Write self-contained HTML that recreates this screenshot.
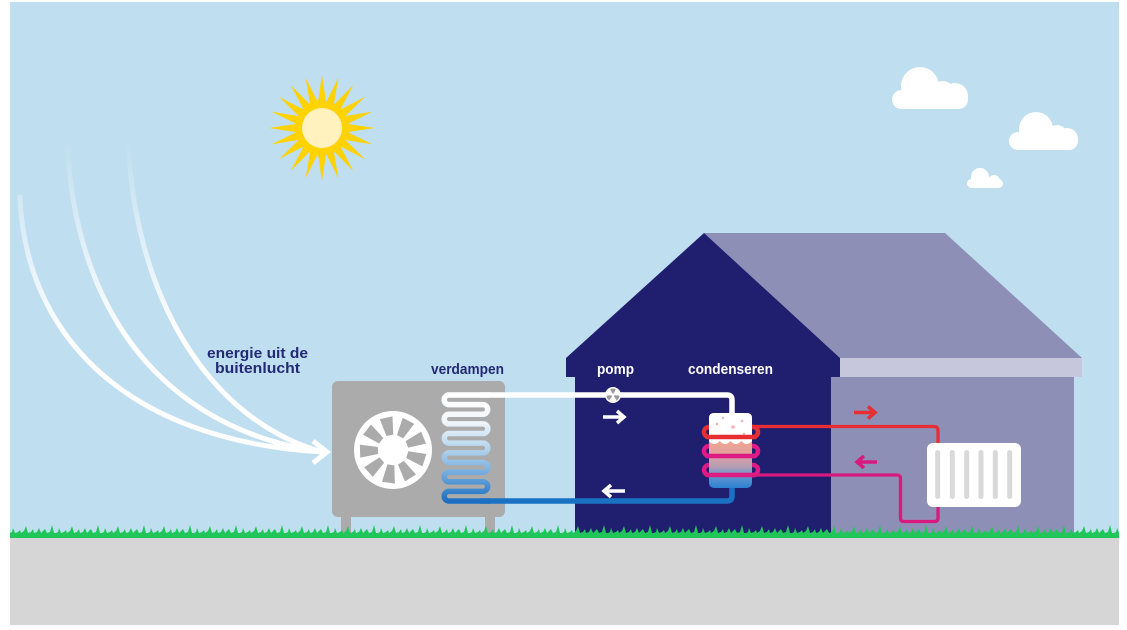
<!DOCTYPE html>
<html><head><meta charset="utf-8"><style>
html,body{margin:0;padding:0;background:#fff;}
svg{display:block;}
text{font-family:"Liberation Sans",sans-serif;font-weight:bold;}
</style></head><body>
<svg width="1127" height="630" viewBox="0 0 1127 630" xmlns="http://www.w3.org/2000/svg">
<defs>
  <linearGradient id="wind" gradientUnits="userSpaceOnUse" x1="0" y1="140" x2="0" y2="340">
    <stop offset="0" stop-color="#fff" stop-opacity="0"/>
    <stop offset="1" stop-color="#fff" stop-opacity="1"/>
  </linearGradient>
  <linearGradient id="coil" gradientUnits="userSpaceOnUse" x1="0" y1="395" x2="0" y2="501">
    <stop offset="0" stop-color="#ffffff"/>
    <stop offset="0.25" stop-color="#f2f7fb"/>
    <stop offset="0.45" stop-color="#c2dcf0"/>
    <stop offset="0.7" stop-color="#7fb4e2"/>
    <stop offset="1" stop-color="#1a6fc2"/>
  </linearGradient>
  <linearGradient id="tank" gradientUnits="userSpaceOnUse" x1="0" y1="413" x2="0" y2="488">
    <stop offset="0.35" stop-color="#f3a78e"/>
    <stop offset="0.55" stop-color="#e0a09f"/>
    <stop offset="0.72" stop-color="#b49db4"/>
    <stop offset="0.82" stop-color="#6b96cc"/>
    <stop offset="1" stop-color="#2b82d2"/>
  </linearGradient>
  <pattern id="grass" patternUnits="userSpaceOnUse" x="10" y="524" width="46" height="14">
    <polygon fill="#20c65a" points="0,14 0,9 2,8 3,4 5,9 8,8 10,6 11,9 14,7 16,2 18,9 21,8 23,5 24,9 27,8 29,4 31,9 33,7 35,5 37,9 40,8 42,1 44,9 46,9 46,14"/>
  </pattern>
  <polygon id="ray" points="318,102 322,75 326,102"/>
  <polygon id="hole" points="-3.5,-15 3.5,-15 6.5,-33 -6.5,-33"/>
  <path id="blade" d="M613,395 L610.25,389.1 A6.5 6.5 0 0 1 615.75,389.1 Z"/>
</defs>

<!-- sky & ground -->
<rect x="10" y="2" width="1109" height="536" fill="#bfdef0"/>
<rect x="10" y="538" width="1109" height="87" fill="#d6d6d6"/>

<!-- sun -->
<g fill="#ffd200">
  <use href="#ray" transform="rotate(0 322 128)"/>
  <use href="#ray" transform="rotate(18 322 128)"/>
  <use href="#ray" transform="rotate(36 322 128)"/>
  <use href="#ray" transform="rotate(54 322 128)"/>
  <use href="#ray" transform="rotate(72 322 128)"/>
  <use href="#ray" transform="rotate(90 322 128)"/>
  <use href="#ray" transform="rotate(108 322 128)"/>
  <use href="#ray" transform="rotate(126 322 128)"/>
  <use href="#ray" transform="rotate(144 322 128)"/>
  <use href="#ray" transform="rotate(162 322 128)"/>
  <use href="#ray" transform="rotate(180 322 128)"/>
  <use href="#ray" transform="rotate(198 322 128)"/>
  <use href="#ray" transform="rotate(216 322 128)"/>
  <use href="#ray" transform="rotate(234 322 128)"/>
  <use href="#ray" transform="rotate(252 322 128)"/>
  <use href="#ray" transform="rotate(270 322 128)"/>
  <use href="#ray" transform="rotate(288 322 128)"/>
  <use href="#ray" transform="rotate(306 322 128)"/>
  <use href="#ray" transform="rotate(324 322 128)"/>
  <use href="#ray" transform="rotate(342 322 128)"/>
  <circle cx="322" cy="128" r="27"/>
</g>
<circle cx="322" cy="128" r="20" fill="#fff2be"/>

<!-- clouds -->
<g fill="#ffffff">
  <circle cx="920" cy="86" r="19"/>
  <rect x="892" y="90" width="76" height="19" rx="9.5"/>
  <circle cx="943" cy="92" r="11"/>
  <circle cx="955" cy="96" r="13"/>

  <circle cx="1036" cy="129" r="17"/>
  <rect x="1009" y="132" width="69" height="18" rx="9"/>
  <circle cx="1057" cy="135" r="10"/>
  <circle cx="1067" cy="139" r="11"/>

  <circle cx="980" cy="177" r="9"/>
  <rect x="967" y="179" width="36" height="9" rx="4.5"/>
  <circle cx="994" cy="181" r="6"/>
</g>

<!-- wind curves -->
<g fill="none" stroke="url(#wind)" stroke-width="5" stroke-linecap="round">
  <path d="M20,197 C25,330 120,440 322,452"/>
  <path d="M67,140 C75,320 170,430 322,452"/>
  <path d="M128,140 C135,300 210,420 322,452"/>
</g>
<path d="M313,441 L327,452 L313,463" fill="none" stroke="#fff" stroke-width="5" stroke-linejoin="miter"/>

<text x="207" y="358" font-size="15" fill="#232a74" textLength="101" lengthAdjust="spacingAndGlyphs">energie uit de</text>
<text x="215" y="373" font-size="15" fill="#232a74" textLength="85" lengthAdjust="spacingAndGlyphs">buitenlucht</text>

<!-- house -->
<polygon points="704,233 945,233 1082,358 840,358" fill="#8e8fb6"/>
<rect x="840" y="358" width="242" height="19" fill="#c6c6dd"/>
<rect x="831" y="377" width="243" height="161" fill="#8e8fb6"/>
<polygon points="704,233 840,358 840,377 831,377 831,538 575,538 575,377 566,377 566,358" fill="#201f6f"/>

<!-- heat pump unit -->
<rect x="341" y="510" width="10" height="26" fill="#ababab"/>
<rect x="485" y="510" width="10" height="26" fill="#ababab"/>
<rect x="332" y="381" width="173" height="136" rx="6" fill="#ababab"/>
<circle cx="393" cy="450" r="39" fill="#ffffff"/>
<g fill="#ababab" transform="translate(393 450)">
  <use href="#hole" transform="rotate(-12)"/>
  <use href="#hole" transform="rotate(28)"/>
  <use href="#hole" transform="rotate(68)"/>
  <use href="#hole" transform="rotate(108)"/>
  <use href="#hole" transform="rotate(148)"/>
  <use href="#hole" transform="rotate(188)"/>
  <use href="#hole" transform="rotate(228)"/>
  <use href="#hole" transform="rotate(268)"/>
  <use href="#hole" transform="rotate(308)"/>
</g>

<text x="431" y="374" font-size="15" fill="#232a74" textLength="73" lengthAdjust="spacingAndGlyphs">verdampen</text>
<text x="597" y="374" font-size="15" fill="#ffffff" textLength="37" lengthAdjust="spacingAndGlyphs">pomp</text>
<text x="688" y="374" font-size="15" fill="#ffffff" textLength="85" lengthAdjust="spacingAndGlyphs">condenseren</text>

<!-- pipes -->
<path d="M480,395 H727 Q732,395 732,400 V416" fill="none" stroke="#ffffff" stroke-width="5.5"/>
<path d="M480,501 H727 Q732,501 732,496 V484" fill="none" stroke="#1a72c4" stroke-width="5.5"/>

<!-- coil -->
<path fill="none" stroke="url(#coil)" stroke-width="5.5" d="M490,395 H449 A4.818 4.818 0 0 0 449,404.64 H483 A4.818 4.818 0 0 1 483,414.27 H449 A4.818 4.818 0 0 0 449,423.91 H483 A4.818 4.818 0 0 1 483,433.55 H449 A4.818 4.818 0 0 0 449,443.18 H483 A4.818 4.818 0 0 1 483,452.82 H449 A4.818 4.818 0 0 0 449,462.45 H483 A4.818 4.818 0 0 1 483,472.09 H449 A4.818 4.818 0 0 0 449,481.73 H483 A4.818 4.818 0 0 1 483,491.36 H449 A4.818 4.818 0 0 0 449,501 H490"/>

<!-- pump icon -->
<circle cx="613" cy="395" r="8" fill="#ffffff"/>
<g fill="#9a9a9a">
  <use href="#blade"/>
  <use href="#blade" transform="rotate(120 613 395)"/>
  <use href="#blade" transform="rotate(240 613 395)"/>
</g>
<circle cx="613" cy="395" r="1.6" fill="#ffffff"/>

<!-- white arrows -->
<g fill="none" stroke="#ffffff" stroke-width="3.5">
  <path d="M603,417 H624"/>
  <path d="M617,411 L624,417 L617,423"/>
  <path d="M604,491 H625"/>
  <path d="M611,485 L604,491 L611,497"/>
</g>

<!-- hot water pipes -->
<path d="M752,426.5 H934 Q938,426.5 938,430.5 V446" fill="none" stroke="#e62e33" stroke-width="3.3"/>
<path d="M752,475 H897 Q900.5,475 900.5,478.5 V518 Q900.5,521.5 904,521.5 H934.5 Q938,521.5 938,518 V504" fill="none" stroke="#d81a80" stroke-width="3.3"/>

<!-- coil loops behind tank -->
<g fill="none" stroke-width="4.5">
  <rect x="704" y="427" width="54" height="10" rx="5" stroke="#e62e33"/>
  <rect x="704" y="446" width="54" height="10" rx="5" stroke="#df1a82"/>
  <rect x="704" y="465" width="54" height="10" rx="5" stroke="#df1a82"/>
</g>

<!-- tank -->
<rect x="709" y="413" width="43" height="75" rx="5" fill="url(#tank)"/>
<path d="M709,441 V418 Q709,413 714,413 H747 Q752,413 752,418 V441 Q746.6,447 741.25,441 Q735.9,447 730.5,441 Q725.1,447 719.75,441 Q714.4,447 709,441 Z" fill="#ffffff"/>
<g fill="#f4b4b4">
  <circle cx="717" cy="424" r="1.3"/>
  <circle cx="723" cy="418" r="1.2"/>
  <circle cx="733" cy="427" r="1.8"/>
  <circle cx="742" cy="421" r="1.3"/>
  <circle cx="727" cy="436" r="1.2"/>
  <circle cx="744" cy="434" r="1.2"/>
</g>

<!-- coil front bars -->
<g fill="none" stroke-width="4.5" stroke-linecap="round">
  <path d="M707,437 H755" stroke="#e62e33"/>
  <path d="M707,456 H755" stroke="#df1a82"/>
  <path d="M707,475 H755" stroke="#df1a82"/>
</g>

<!-- colored arrows -->
<g fill="none" stroke-width="3.5">
  <path d="M854,412.5 H875" stroke="#e62e33"/>
  <path d="M868,406.5 L875,412.5 L868,418.5" stroke="#e62e33"/>
  <path d="M857,462 H877" stroke="#d81a80"/>
  <path d="M864,456 L857,462 L864,468" stroke="#d81a80"/>
</g>

<!-- radiator -->
<rect x="927" y="443" width="94" height="64" rx="6" fill="#ffffff"/>
<g fill="#d9d9d9">
  <rect x="935.2" y="450" width="5" height="49" rx="2.5"/>
  <rect x="949.8" y="450" width="5" height="49" rx="2.5"/>
  <rect x="964.2" y="450" width="5" height="49" rx="2.5"/>
  <rect x="978.5" y="450" width="5" height="49" rx="2.5"/>
  <rect x="992.8" y="450" width="5" height="49" rx="2.5"/>
  <rect x="1007.2" y="450" width="5" height="49" rx="2.5"/>
</g>

<!-- grass -->
<rect x="10" y="524" width="1109" height="14" fill="url(#grass)"/>
</svg>
</body></html>
